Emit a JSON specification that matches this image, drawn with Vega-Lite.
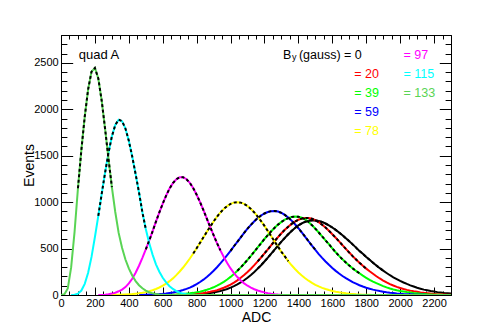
{
"$schema":"https://vega.github.io/schema/vega-lite/v6.json",
"width":390,"height":260,
"autosize":{"type":"none"},
"padding":{"left":61,"top":35,"right":29,"bottom":32},
"background":"white",
"config":{"view":{"stroke":"black","strokeWidth":1},
"axis":{"domain":false,"grid":false,"tickColor":"black","tickWidth":1,"labelFont":"Liberation Sans","labelFontSize":11,"labelColor":"black","labelFlush":false,"format":"d","titleFont":"Liberation Sans","titleFontSize":14,"titleFontWeight":"normal","titleColor":"black"},
"text":{"font":"Liberation Sans"}},
"datasets":{
"hist":[
{"s":"0","x":600,"y":0},{"s":"0","x":640,"y":1},{"s":"0","x":680,"y":1},{"s":"0","x":720,"y":2},{"s":"0","x":760,"y":4},{"s":"0","x":800,"y":8},{"s":"0","x":820,"y":10},{"s":"0","x":840,"y":13},{"s":"0","x":860,"y":17},{"s":"0","x":880,"y":22},{"s":"0","x":900,"y":27},{"s":"0","x":920,"y":34},{"s":"0","x":940,"y":43},{"s":"0","x":960,"y":53},{"s":"0","x":980,"y":65},{"s":"0","x":1000,"y":79},{"s":"0","x":1020,"y":95},{"s":"0","x":1040,"y":114},{"s":"0","x":1060,"y":135},{"s":"0","x":1080,"y":159},{"s":"0","x":1100,"y":186},{"s":"0","x":1120,"y":216},{"s":"0","x":1140,"y":248},{"s":"0","x":1160,"y":284},{"s":"0","x":1180,"y":321},{"s":"0","x":1200,"y":361},{"s":"0","x":1220,"y":402},{"s":"0","x":1240,"y":445},{"s":"0","x":1260,"y":488},{"s":"0","x":1280,"y":532},{"s":"0","x":1300,"y":574},{"s":"0","x":1320,"y":615},{"s":"0","x":1340,"y":654},{"s":"0","x":1360,"y":690},{"s":"0","x":1380,"y":722},{"s":"0","x":1400,"y":750},{"s":"0","x":1420,"y":772},{"s":"0","x":1440,"y":789},{"s":"0","x":1460,"y":800},{"s":"0","x":1480,"y":805},{"s":"0","x":1500,"y":803},{"s":"0","x":1520,"y":797},{"s":"0","x":1540,"y":786},{"s":"0","x":1560,"y":770},{"s":"0","x":1580,"y":750},{"s":"0","x":1600,"y":727},{"s":"0","x":1620,"y":701},{"s":"0","x":1640,"y":673},{"s":"0","x":1660,"y":643},{"s":"0","x":1680,"y":611},{"s":"0","x":1700,"y":579},{"s":"0","x":1720,"y":545},{"s":"0","x":1740,"y":510},{"s":"0","x":1760,"y":475},{"s":"0","x":1780,"y":443},{"s":"0","x":1800,"y":410},{"s":"0","x":1820,"y":379},{"s":"0","x":1840,"y":348},{"s":"0","x":1860,"y":318},{"s":"0","x":1880,"y":289},{"s":"0","x":1900,"y":262},{"s":"0","x":1920,"y":237},{"s":"0","x":1940,"y":213},{"s":"0","x":1960,"y":191},{"s":"0","x":1980,"y":171},{"s":"0","x":2000,"y":152},{"s":"0","x":2020,"y":135},{"s":"0","x":2040,"y":119},{"s":"0","x":2060,"y":104},{"s":"0","x":2080,"y":91},{"s":"0","x":2100,"y":78},{"s":"0","x":2120,"y":68},{"s":"0","x":2140,"y":58},{"s":"0","x":2160,"y":51},{"s":"0","x":2180,"y":43},{"s":"0","x":2200,"y":37},{"s":"0","x":2220,"y":31},{"s":"0","x":2240,"y":27},{"s":"0","x":2260,"y":22},{"s":"0","x":2280,"y":19},{"s":"0","x":2300,"y":16},
{"s":"20","x":600,"y":0},{"s":"20","x":620,"y":1},{"s":"20","x":660,"y":2},{"s":"20","x":700,"y":3},{"s":"20","x":740,"y":6},{"s":"20","x":780,"y":10},{"s":"20","x":800,"y":13},{"s":"20","x":820,"y":16},{"s":"20","x":840,"y":21},{"s":"20","x":860,"y":27},{"s":"20","x":880,"y":34},{"s":"20","x":900,"y":42},{"s":"20","x":920,"y":52},{"s":"20","x":940,"y":64},{"s":"20","x":960,"y":78},{"s":"20","x":980,"y":94},{"s":"20","x":1000,"y":112},{"s":"20","x":1020,"y":134},{"s":"20","x":1040,"y":158},{"s":"20","x":1060,"y":185},{"s":"20","x":1080,"y":215},{"s":"20","x":1100,"y":247},{"s":"20","x":1120,"y":283},{"s":"20","x":1140,"y":321},{"s":"20","x":1160,"y":362},{"s":"20","x":1180,"y":404},{"s":"20","x":1200,"y":448},{"s":"20","x":1220,"y":492},{"s":"20","x":1240,"y":537},{"s":"20","x":1260,"y":581},{"s":"20","x":1280,"y":624},{"s":"20","x":1300,"y":665},{"s":"20","x":1320,"y":702},{"s":"20","x":1340,"y":736},{"s":"20","x":1360,"y":766},{"s":"20","x":1380,"y":791},{"s":"20","x":1400,"y":810},{"s":"20","x":1420,"y":823},{"s":"20","x":1440,"y":830},{"s":"20","x":1460,"y":830},{"s":"20","x":1480,"y":821},{"s":"20","x":1500,"y":806},{"s":"20","x":1520,"y":784},{"s":"20","x":1540,"y":757},{"s":"20","x":1560,"y":726},{"s":"20","x":1580,"y":692},{"s":"20","x":1600,"y":655},{"s":"20","x":1620,"y":617},{"s":"20","x":1640,"y":577},{"s":"20","x":1660,"y":537},{"s":"20","x":1680,"y":497},{"s":"20","x":1700,"y":457},{"s":"20","x":1720,"y":419},{"s":"20","x":1740,"y":383},{"s":"20","x":1760,"y":348},{"s":"20","x":1780,"y":315},{"s":"20","x":1800,"y":284},{"s":"20","x":1820,"y":255},{"s":"20","x":1840,"y":229},{"s":"20","x":1860,"y":202},{"s":"20","x":1880,"y":178},{"s":"20","x":1900,"y":156},{"s":"20","x":1920,"y":136},{"s":"20","x":1940,"y":118},{"s":"20","x":1960,"y":102},{"s":"20","x":1980,"y":88},{"s":"20","x":2000,"y":75},{"s":"20","x":2020,"y":64},{"s":"20","x":2040,"y":55},{"s":"20","x":2060,"y":47},{"s":"20","x":2080,"y":40},{"s":"20","x":2100,"y":34},{"s":"20","x":2120,"y":28},{"s":"20","x":2140,"y":23},{"s":"20","x":2160,"y":19},{"s":"20","x":2180,"y":15},{"s":"20","x":2200,"y":12},{"s":"20","x":2220,"y":9},{"s":"20","x":2240,"y":7},{"s":"20","x":2260,"y":5},{"s":"20","x":2280,"y":3},{"s":"20","x":2300,"y":2},
{"s":"39","x":560,"y":0},{"s":"39","x":600,"y":2},{"s":"39","x":640,"y":4},{"s":"39","x":680,"y":6},{"s":"39","x":720,"y":11},{"s":"39","x":760,"y":18},{"s":"39","x":780,"y":23},{"s":"39","x":800,"y":29},{"s":"39","x":820,"y":36},{"s":"39","x":840,"y":45},{"s":"39","x":860,"y":56},{"s":"39","x":880,"y":68},{"s":"39","x":900,"y":83},{"s":"39","x":920,"y":100},{"s":"39","x":940,"y":119},{"s":"39","x":960,"y":142},{"s":"39","x":980,"y":167},{"s":"39","x":1000,"y":195},{"s":"39","x":1020,"y":227},{"s":"39","x":1040,"y":261},{"s":"39","x":1060,"y":298},{"s":"39","x":1080,"y":337},{"s":"39","x":1100,"y":379},{"s":"39","x":1120,"y":422},{"s":"39","x":1140,"y":467},{"s":"39","x":1160,"y":513},{"s":"39","x":1180,"y":558},{"s":"39","x":1200,"y":603},{"s":"39","x":1220,"y":646},{"s":"39","x":1240,"y":686},{"s":"39","x":1260,"y":724},{"s":"39","x":1280,"y":758},{"s":"39","x":1300,"y":787},{"s":"39","x":1320,"y":811},{"s":"39","x":1340,"y":828},{"s":"39","x":1360,"y":840},{"s":"39","x":1380,"y":845},{"s":"39","x":1400,"y":843},{"s":"39","x":1420,"y":832},{"s":"39","x":1440,"y":814},{"s":"39","x":1460,"y":786},{"s":"39","x":1480,"y":752},{"s":"39","x":1500,"y":714},{"s":"39","x":1520,"y":673},{"s":"39","x":1540,"y":631},{"s":"39","x":1560,"y":589},{"s":"39","x":1580,"y":547},{"s":"39","x":1600,"y":503},{"s":"39","x":1620,"y":460},{"s":"39","x":1640,"y":421},{"s":"39","x":1660,"y":384},{"s":"39","x":1680,"y":350},{"s":"39","x":1700,"y":317},{"s":"39","x":1720,"y":287},{"s":"39","x":1740,"y":259},{"s":"39","x":1760,"y":234},{"s":"39","x":1780,"y":208},{"s":"39","x":1800,"y":185},{"s":"39","x":1820,"y":163},{"s":"39","x":1840,"y":144},{"s":"39","x":1860,"y":127},{"s":"39","x":1880,"y":112},{"s":"39","x":1900,"y":96},{"s":"39","x":1920,"y":82},{"s":"39","x":1940,"y":70},{"s":"39","x":1960,"y":60},{"s":"39","x":1980,"y":51},{"s":"39","x":2000,"y":44},{"s":"39","x":2020,"y":38},{"s":"39","x":2040,"y":32},{"s":"39","x":2060,"y":27},{"s":"39","x":2080,"y":22},{"s":"39","x":2100,"y":18},{"s":"39","x":2120,"y":14},{"s":"39","x":2140,"y":11},{"s":"39","x":2160,"y":8},{"s":"39","x":2180,"y":6},{"s":"39","x":2200,"y":4},{"s":"39","x":2220,"y":3},{"s":"39","x":2240,"y":2},{"s":"39","x":2260,"y":1},{"s":"39","x":2280,"y":0},
{"s":"59","x":460,"y":0},{"s":"59","x":500,"y":3},{"s":"59","x":540,"y":6},{"s":"59","x":580,"y":10},{"s":"59","x":600,"y":13},{"s":"59","x":620,"y":17},{"s":"59","x":640,"y":22},{"s":"59","x":660,"y":27},{"s":"59","x":680,"y":35},{"s":"59","x":700,"y":43},{"s":"59","x":720,"y":54},{"s":"59","x":740,"y":66},{"s":"59","x":760,"y":80},{"s":"59","x":780,"y":97},{"s":"59","x":800,"y":117},{"s":"59","x":820,"y":140},{"s":"59","x":840,"y":165},{"s":"59","x":860,"y":194},{"s":"59","x":880,"y":226},{"s":"59","x":900,"y":261},{"s":"59","x":920,"y":299},{"s":"59","x":940,"y":340},{"s":"59","x":960,"y":383},{"s":"59","x":980,"y":429},{"s":"59","x":1000,"y":476},{"s":"59","x":1020,"y":525},{"s":"59","x":1040,"y":573},{"s":"59","x":1060,"y":621},{"s":"59","x":1080,"y":669},{"s":"59","x":1100,"y":714},{"s":"59","x":1120,"y":756},{"s":"59","x":1140,"y":794},{"s":"59","x":1160,"y":828},{"s":"59","x":1180,"y":856},{"s":"59","x":1200,"y":878},{"s":"59","x":1220,"y":894},{"s":"59","x":1240,"y":903},{"s":"59","x":1260,"y":905},{"s":"59","x":1280,"y":899},{"s":"59","x":1300,"y":884},{"s":"59","x":1320,"y":863},{"s":"59","x":1340,"y":834},{"s":"59","x":1360,"y":801},{"s":"59","x":1380,"y":762},{"s":"59","x":1400,"y":719},{"s":"59","x":1420,"y":674},{"s":"59","x":1440,"y":627},{"s":"59","x":1460,"y":579},{"s":"59","x":1480,"y":531},{"s":"59","x":1500,"y":487},{"s":"59","x":1520,"y":441},{"s":"59","x":1540,"y":400},{"s":"59","x":1560,"y":361},{"s":"59","x":1580,"y":325},{"s":"59","x":1600,"y":291},{"s":"59","x":1620,"y":260},{"s":"59","x":1640,"y":231},{"s":"59","x":1660,"y":205},{"s":"59","x":1680,"y":181},{"s":"59","x":1700,"y":160},{"s":"59","x":1720,"y":138},{"s":"59","x":1740,"y":122},{"s":"59","x":1760,"y":105},{"s":"59","x":1780,"y":91},{"s":"59","x":1800,"y":78},{"s":"59","x":1820,"y":68},{"s":"59","x":1840,"y":58},{"s":"59","x":1860,"y":50},{"s":"59","x":1880,"y":42},{"s":"59","x":1900,"y":36},{"s":"59","x":1920,"y":30},{"s":"59","x":1940,"y":25},{"s":"59","x":1960,"y":21},{"s":"59","x":1980,"y":17},{"s":"59","x":2000,"y":14},{"s":"59","x":2020,"y":11},{"s":"59","x":2040,"y":9},{"s":"59","x":2060,"y":7},{"s":"59","x":2080,"y":5},{"s":"59","x":2100,"y":4},{"s":"59","x":2120,"y":3},{"s":"59","x":2140,"y":2},{"s":"59","x":2160,"y":1},{"s":"59","x":2200,"y":0},
{"s":"78","x":260,"y":0},{"s":"78","x":300,"y":2},{"s":"78","x":340,"y":3},{"s":"78","x":380,"y":6},{"s":"78","x":400,"y":8},{"s":"78","x":420,"y":10},{"s":"78","x":440,"y":14},{"s":"78","x":460,"y":18},{"s":"78","x":480,"y":24},{"s":"78","x":500,"y":31},{"s":"78","x":520,"y":40},{"s":"78","x":540,"y":51},{"s":"78","x":560,"y":65},{"s":"78","x":580,"y":81},{"s":"78","x":600,"y":100},{"s":"78","x":620,"y":123},{"s":"78","x":640,"y":149},{"s":"78","x":660,"y":179},{"s":"78","x":680,"y":214},{"s":"78","x":700,"y":253},{"s":"78","x":720,"y":296},{"s":"78","x":740,"y":343},{"s":"78","x":760,"y":393},{"s":"78","x":780,"y":447},{"s":"78","x":800,"y":504},{"s":"78","x":820,"y":562},{"s":"78","x":840,"y":621},{"s":"78","x":860,"y":680},{"s":"78","x":880,"y":737},{"s":"78","x":900,"y":792},{"s":"78","x":920,"y":843},{"s":"78","x":940,"y":888},{"s":"78","x":960,"y":927},{"s":"78","x":980,"y":958},{"s":"78","x":1000,"y":981},{"s":"78","x":1020,"y":995},{"s":"78","x":1040,"y":1000},{"s":"78","x":1060,"y":995},{"s":"78","x":1080,"y":981},{"s":"78","x":1100,"y":958},{"s":"78","x":1120,"y":927},{"s":"78","x":1140,"y":889},{"s":"78","x":1160,"y":845},{"s":"78","x":1180,"y":795},{"s":"78","x":1200,"y":744},{"s":"78","x":1220,"y":688},{"s":"78","x":1240,"y":633},{"s":"78","x":1260,"y":575},{"s":"78","x":1280,"y":520},{"s":"78","x":1300,"y":465},{"s":"78","x":1320,"y":415},{"s":"78","x":1340,"y":364},{"s":"78","x":1360,"y":320},{"s":"78","x":1380,"y":280},{"s":"78","x":1400,"y":243},{"s":"78","x":1420,"y":210},{"s":"78","x":1440,"y":180},{"s":"78","x":1460,"y":154},{"s":"78","x":1480,"y":130},{"s":"78","x":1500,"y":110},{"s":"78","x":1520,"y":93},{"s":"78","x":1540,"y":77},{"s":"78","x":1560,"y":64},{"s":"78","x":1580,"y":53},{"s":"78","x":1600,"y":44},{"s":"78","x":1620,"y":36},{"s":"78","x":1640,"y":29},{"s":"78","x":1660,"y":23},{"s":"78","x":1680,"y":18},{"s":"78","x":1700,"y":14},{"s":"78","x":1720,"y":11},{"s":"78","x":1740,"y":8},{"s":"78","x":1760,"y":6},{"s":"78","x":1780,"y":4},{"s":"78","x":1800,"y":3},{"s":"78","x":1820,"y":2},{"s":"78","x":1840,"y":1},{"s":"78","x":1880,"y":0},
{"s":"97","x":220,"y":0},{"s":"97","x":260,"y":3},{"s":"97","x":280,"y":8},{"s":"97","x":300,"y":15},{"s":"97","x":320,"y":25},{"s":"97","x":340,"y":40},{"s":"97","x":360,"y":58},{"s":"97","x":380,"y":85},{"s":"97","x":400,"y":125},{"s":"97","x":420,"y":175},{"s":"97","x":440,"y":240},{"s":"97","x":460,"y":315},{"s":"97","x":480,"y":400},{"s":"97","x":500,"y":492},{"s":"97","x":520,"y":585},{"s":"97","x":540,"y":685},{"s":"97","x":560,"y":790},{"s":"97","x":580,"y":890},{"s":"97","x":600,"y":984},{"s":"97","x":620,"y":1070},{"s":"97","x":640,"y":1146},{"s":"97","x":660,"y":1205},{"s":"97","x":680,"y":1246},{"s":"97","x":700,"y":1268},{"s":"97","x":720,"y":1268},{"s":"97","x":740,"y":1247},{"s":"97","x":760,"y":1207},{"s":"97","x":780,"y":1150},{"s":"97","x":800,"y":1080},{"s":"97","x":820,"y":1000},{"s":"97","x":840,"y":913},{"s":"97","x":860,"y":823},{"s":"97","x":880,"y":732},{"s":"97","x":900,"y":644},{"s":"97","x":920,"y":559},{"s":"97","x":940,"y":480},{"s":"97","x":960,"y":409},{"s":"97","x":980,"y":344},{"s":"97","x":1000,"y":286},{"s":"97","x":1020,"y":236},{"s":"97","x":1040,"y":193},{"s":"97","x":1060,"y":157},{"s":"97","x":1080,"y":125},{"s":"97","x":1100,"y":100},{"s":"97","x":1120,"y":80},{"s":"97","x":1140,"y":62},{"s":"97","x":1160,"y":48},{"s":"97","x":1180,"y":37},{"s":"97","x":1200,"y":28},{"s":"97","x":1220,"y":20},{"s":"97","x":1240,"y":14},{"s":"97","x":1260,"y":9},{"s":"97","x":1280,"y":5},{"s":"97","x":1300,"y":2},{"s":"97","x":1340,"y":0},
{"s":"115","x":60,"y":0},{"s":"115","x":80,"y":3},{"s":"115","x":100,"y":14},{"s":"115","x":120,"y":48},{"s":"115","x":140,"y":120},{"s":"115","x":160,"y":240},{"s":"115","x":180,"y":410},{"s":"115","x":200,"y":625},{"s":"115","x":220,"y":852},{"s":"115","x":240,"y":1089},{"s":"115","x":260,"y":1317},{"s":"115","x":280,"y":1530},{"s":"115","x":300,"y":1708},{"s":"115","x":320,"y":1831},{"s":"115","x":340,"y":1888},{"s":"115","x":360,"y":1872},{"s":"115","x":380,"y":1793},{"s":"115","x":400,"y":1660},{"s":"115","x":420,"y":1491},{"s":"115","x":440,"y":1302},{"s":"115","x":460,"y":1105},{"s":"115","x":480,"y":890},{"s":"115","x":500,"y":710},{"s":"115","x":520,"y":560},{"s":"115","x":540,"y":435},{"s":"115","x":560,"y":330},{"s":"115","x":580,"y":250},{"s":"115","x":600,"y":185},{"s":"115","x":620,"y":135},{"s":"115","x":640,"y":95},{"s":"115","x":660,"y":65},{"s":"115","x":680,"y":42},{"s":"115","x":700,"y":25},{"s":"115","x":720,"y":15},{"s":"115","x":740,"y":8},{"s":"115","x":760,"y":4},{"s":"115","x":780,"y":2},{"s":"115","x":800,"y":0},
{"s":"133","x":0,"y":0},{"s":"133","x":20,"y":8},{"s":"133","x":40,"y":70},{"s":"133","x":60,"y":300},{"s":"133","x":80,"y":680},{"s":"133","x":100,"y":1150},{"s":"133","x":120,"y":1560},{"s":"133","x":140,"y":1920},{"s":"133","x":160,"y":2215},{"s":"133","x":180,"y":2405},{"s":"133","x":200,"y":2445},{"s":"133","x":220,"y":2333},{"s":"133","x":240,"y":2092},{"s":"133","x":260,"y":1790},{"s":"133","x":280,"y":1468},{"s":"133","x":300,"y":1163},{"s":"133","x":320,"y":894},{"s":"133","x":340,"y":669},{"s":"133","x":360,"y":508},{"s":"133","x":380,"y":382},{"s":"133","x":400,"y":287},{"s":"133","x":420,"y":210},{"s":"133","x":440,"y":150},{"s":"133","x":460,"y":105},{"s":"133","x":480,"y":72},{"s":"133","x":500,"y":48},{"s":"133","x":520,"y":30},{"s":"133","x":540,"y":18},{"s":"133","x":560,"y":10},{"s":"133","x":580,"y":5},{"s":"133","x":600,"y":2},{"s":"133","x":620,"y":0},{"s":"133","x":2300,"y":0}
],
"fits":[
{"s":"0","lo":1150,"hi":1900},{"s":"20","lo":1150,"hi":1800},{"s":"39","lo":1040,"hi":1760},{"s":"59","lo":1000,"hi":1500},{"s":"78","lo":780,"hi":1340},{"s":"97","lo":500,"hi":940},{"s":"115","lo":210,"hi":500},{"s":"133","lo":100,"hi":300}
],
"legend":[
{"s":"0","t":"B","x":1309,"y":2543},{"s":"0","t":"(gauss) = 0","x":1403,"y":2543},
{"s":"20","t":"= 20","x":1730,"y":2337},{"s":"39","t":"= 39","x":1730,"y":2132},{"s":"59","t":"= 59","x":1730,"y":1925},{"s":"78","t":"= 78","x":1730,"y":1720},
{"s":"97","t":"= 97","x":2020,"y":2538},{"s":"115","t":"= 115","x":2020,"y":2337},{"s":"133","t":"= 133","x":2020,"y":2132}
]
},
"resolve":{"axis":{"x":"independent","y":"independent"}},
"layer":[
{"data":{"name":"hist"},
"mark":{"type":"line","strokeWidth":2,"clip":true},
"encoding":{
"x":{"field":"x","type":"quantitative","scale":{"domain":[0,2300],"nice":false,"zero":false},
"axis":{"orient":"bottom","values":[0,200,400,600,800,1000,1200,1400,1600,1800,2000,2200],"tickSize":-8,"labelPadding":10,"title":"ADC","titlePadding":2}},
"y":{"field":"y","type":"quantitative","scale":{"domain":[0,2800],"nice":false},
"axis":{"orient":"left","values":[0,500,1000,1500,2000,2500],"tickSize":-11.7,"labelPadding":14.5,"title":"Events","titlePadding":-3}},
"color":{"field":"s","type":"nominal","legend":null,"scale":{"domain":["0","20","39","59","78","97","115","133"],"range":["#000000","#ff0000","#00ff00","#0000ff","#ffff00","#ff00ff","#00ffff","#59d454"]}}
}},
{"data":{"name":"hist"},
"transform":[{"lookup":"s","from":{"data":{"name":"fits"},"key":"s","fields":["lo","hi"]}},{"filter":"datum.x >= datum.lo && datum.x <= datum.hi"}],
"mark":{"type":"line","strokeWidth":2,"strokeDash":[3,2.5],"color":"black","clip":true},
"encoding":{
"x":{"field":"x","type":"quantitative","axis":{"orient":"bottom","values":[0,50,100,150,200,250,300,350,400,450,500,550,600,650,700,750,800,850,900,950,1000,1050,1100,1150,1200,1250,1300,1350,1400,1450,1500,1550,1600,1650,1700,1750,1800,1850,1900,1950,2000,2050,2100,2150,2200,2250,2300],"tickSize":-4,"labels":false,"title":null}},
"y":{"field":"y","type":"quantitative","axis":{"orient":"left","values":[0,100,200,300,400,500,600,700,800,900,1000,1100,1200,1300,1400,1500,1600,1700,1800,1900,2000,2100,2200,2300,2400,2500,2600,2700,2800],"tickSize":-5.9,"labels":false,"title":null}},
"detail":{"field":"s"}
}},
{"data":{"name":"legend"},
"mark":{"type":"text","fontSize":12.5,"align":"left","baseline":"alphabetic"},
"encoding":{
"x":{"field":"x","type":"quantitative","axis":{"orient":"top","values":[0,200,400,600,800,1000,1200,1400,1600,1800,2000,2200],"tickSize":-8,"labels":false,"title":null}},
"y":{"field":"y","type":"quantitative","axis":{"orient":"right","values":[0,500,1000,1500,2000,2500],"tickSize":-11.7,"labels":false,"title":null}},
"text":{"field":"t"},
"color":{"field":"s","type":"nominal","legend":null}
}},
{"data":{"values":[{"t":"quad A","x":105,"y":2541}]},
"mark":{"type":"text","fontSize":13,"align":"left","baseline":"alphabetic","color":"black"},
"encoding":{
"x":{"field":"x","type":"quantitative","axis":{"orient":"top","values":[0,50,100,150,200,250,300,350,400,450,500,550,600,650,700,750,800,850,900,950,1000,1050,1100,1150,1200,1250,1300,1350,1400,1450,1500,1550,1600,1650,1700,1750,1800,1850,1900,1950,2000,2050,2100,2150,2200,2250,2300],"tickSize":-4,"labels":false,"title":null}},
"y":{"field":"y","type":"quantitative","axis":{"orient":"right","values":[0,100,200,300,400,500,600,700,800,900,1000,1100,1200,1300,1400,1500,1600,1700,1800,1900,2000,2100,2200,2300,2400,2500,2600,2700,2800],"tickSize":-5.9,"labels":false,"title":null}},
"text":{"field":"t"}
}},
{"data":{"values":[{"t":"y","x":1362,"y":2528}]},
"mark":{"type":"text","fontSize":9,"align":"left","baseline":"alphabetic","color":"black"},
"encoding":{
"x":{"field":"x","type":"quantitative","axis":null},
"y":{"field":"y","type":"quantitative","axis":null},
"text":{"field":"t"}
}}
]
}
